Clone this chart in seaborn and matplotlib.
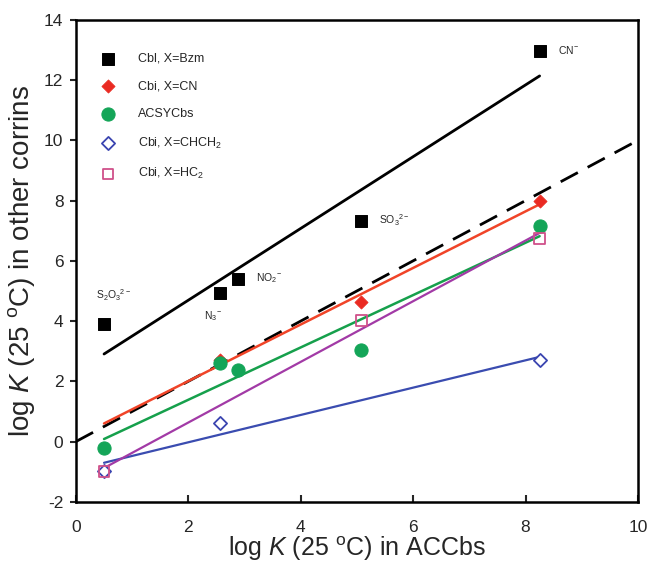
import numpy as np
import pandas as pd
import matplotlib
matplotlib.use("Agg")
import matplotlib.pyplot as plt
import seaborn as sns

# ---- data ----
bzm_x = [0.5, 2.57, 2.88, 5.08, 8.25]
bzm_y = [3.9, 4.93, 5.39, 7.32, 12.98]
bzm_labels = [r"S$_2$O$_3$$^{2-}$", r"N$_3$$^{-}$", r"NO$_2$$^{-}$", r"SO$_3$$^{2-}$", r"CN$^{-}$"]

cn_x = [2.57, 5.08, 8.25]
cn_y = [2.7, 4.62, 8.0]

acsy_x = [0.5, 2.57, 2.88, 5.08, 8.25]
acsy_y = [-0.2, 2.62, 2.38, 3.05, 7.15]

chch2_x = [0.5, 2.57, 8.25]
chch2_y = [-0.98, 0.61, 2.71]

hc2_x = [0.5, 5.08, 8.25]
hc2_y = [-1.0, 4.03, 6.75]

ident_x = [0, 10]

series_names = ["Cbl, X=Bzm", "Cbi, X=CN", "ACSYCbs",
                r"Cbi, X=CHCH$_2$", r"Cbi, X=HC$_2$"]

# ---- style ----
sns.set_style("ticks")
plt.rcParams["font.family"] = ["Liberation Sans", "DejaVu Sans"]
plt.rcParams["mathtext.fontset"] = "custom"
plt.rcParams["mathtext.rm"] = "Liberation Sans"
plt.rcParams["mathtext.it"] = "Liberation Sans:italic"
plt.rcParams["mathtext.bf"] = "Liberation Sans:bold"
plt.rcParams["axes.unicode_minus"] = False

fig = plt.figure(figsize=(6.49, 5.67), dpi=100)
ax = fig.add_axes([0.117, 0.115, 0.866, 0.850])

all_x = np.array(bzm_x + acsy_x)
fit_x = np.array([all_x.min(), all_x.max()])

def fit_line(xs, ys, color, lw):
    p = np.polyfit(xs, ys, 1)
    df = pd.DataFrame({"x": fit_x, "y": np.polyval(p, fit_x)})
    sns.lineplot(data=df, x="x", y="y", color=color, lw=lw, ax=ax,
                 legend=False, zorder=2)

# identity dashed line
sns.lineplot(x=ident_x, y=ident_x, color="black", lw=2.0, ax=ax,
             dashes=False, zorder=2).lines[-1].set_dashes([7, 4])

fit_line(bzm_x, bzm_y, "black", 2.0)
fit_line(cn_x, cn_y, "#f04428", 1.8)
fit_line(acsy_x, acsy_y, "#16a04c", 1.8)
fit_line(chch2_x, chch2_y, "#3a4cb0", 1.6)
fit_line(hc2_x, hc2_y, "#a23aa6", 1.6)

sns.scatterplot(x=bzm_x, y=bzm_y, marker="s", s=75, color="black",
                edgecolor="black", ax=ax, zorder=4, label=series_names[0])
sns.scatterplot(x=cn_x, y=cn_y, marker="D", s=45, color="#ea2a22",
                edgecolor="#ea2a22", ax=ax, zorder=4, label=series_names[1])
sns.scatterplot(x=acsy_x, y=acsy_y, marker="o", s=90, color="#14a558",
                edgecolor="#14a558", ax=ax, zorder=4, label=series_names[2])
sns.scatterplot(x=chch2_x, y=chch2_y, marker="D", s=45, facecolor="white",
                edgecolor="#3a44b0", linewidth=1.3, ax=ax, zorder=5,
                label=series_names[3])
sns.scatterplot(x=hc2_x, y=hc2_y, marker="s", s=60, facecolor="none",
                edgecolor="#d0508a", linewidth=1.3, ax=ax, zorder=5,
                label=series_names[4])

# annotations
for i, (lab, x, y) in enumerate(zip(bzm_labels, bzm_x, bzm_y)):
    if i == 0:
        ax.text(x - 0.15, y + 0.95, lab, fontsize=7.5, ha="left", va="center")
    elif i == 1:
        ax.text(x - 0.3, y - 0.75, lab, fontsize=7.5, ha="left", va="center")
    else:
        ax.text(x + 0.32, y + 0.02, lab, fontsize=7.5, ha="left", va="center")

ax.set_xlim(0, 10)
ax.set_ylim(-2, 14)
ax.set_xticks(range(0, 11, 2))
ax.set_yticks(range(-2, 15, 2))
ax.tick_params(axis="x", direction="in", length=5, width=1.5, labelsize=12.5, pad=13)
ax.tick_params(axis="y", direction="out", length=4, width=1.5, labelsize=12.5, pad=5)
for sp in ax.spines.values():
    sp.set_visible(True)
    sp.set_linewidth(1.8)
    sp.set_color("black")

ax.set_xlabel(r"log $K$ (25 $^{\rm o}$C) in ACCbs", fontsize=18, labelpad=0)
ax.set_ylabel(r"log $K$ (25 $^{\rm o}$C) in other corrins", fontsize=20, labelpad=5)

leg = ax.legend(loc="upper left", bbox_to_anchor=(0.037, 0.942), frameon=False,
                fontsize=9, labelspacing=1.25, handlelength=1.0,
                handletextpad=1.9, borderaxespad=0)

fig.savefig("out.png", dpi=100)
